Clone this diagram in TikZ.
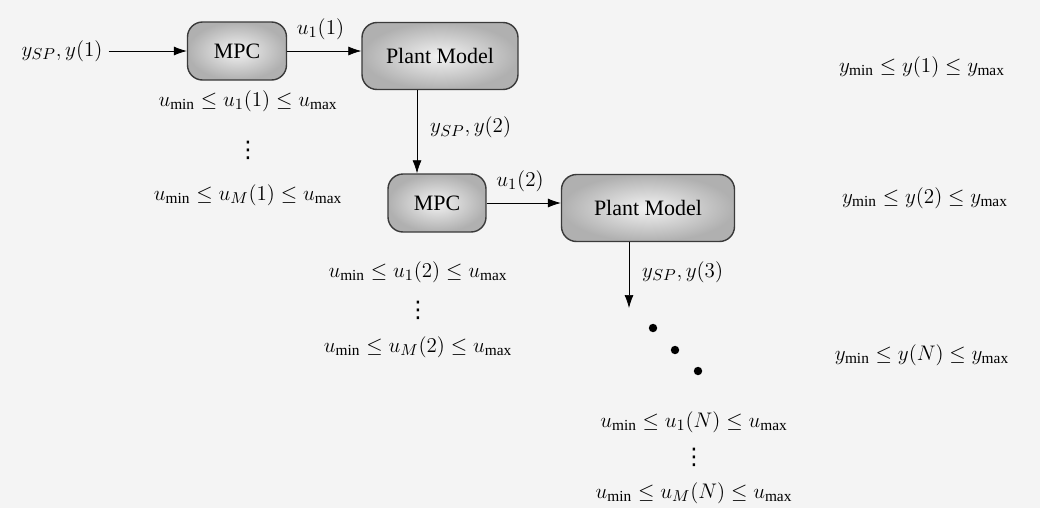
\documentclass[tikz,border=0pt]{standalone}
\usepackage{amsmath,amssymb}
\usepackage{fontspec}
\setmainfont{Liberation Serif}
\newfontfamily\symfont{DejaVu Sans}
\usetikzlibrary{arrows.meta}
\definecolor{paper}{HTML}{F4F4F4}
\definecolor{boxedge}{HTML}{3A3A3A}

\begin{document}
\begin{tikzpicture}[x=0.02cm,y=-0.02cm,>={Latex[length=2.6mm,width=1.8mm]},
  font=\fontsize{12.5}{14}\selectfont,
  block/.style={draw=boxedge,thick,rounded corners=3mm,inner color=gray!10,outer color=gray!62,
    minimum height=1.16cm},
  lbl/.style={inner sep=1pt},
  vdot/.style={inner sep=0pt,font=\symfont\fontsize{13}{13}\selectfont},
  flow/.style={->,thin}]
  \fill[paper] (0,0) rectangle (1040,508);
  \useasboundingbox (0,0) rectangle (1040,508);
  \node (ysp1) at (62,51) {$y_{SP},y(1)$};
  \node[block,minimum width=1.98cm] (mpc1) at (237,51) {MPC};
  \node[block,minimum width=3.12cm,minimum height=1.34cm] (plant1) at (440,56) {Plant Model};
  \node[block,minimum width=1.96cm] (mpc2) at (437,203) {MPC};
  \node[block,minimum width=3.46cm,minimum height=1.34cm] (plant2) at (648,208) {Plant Model};
  \coordinate (x2) at (417,0);
  \coordinate (d3) at (629,308);
  \draw[flow] (ysp1.east) -- (mpc1.west);
  \draw[flow] (mpc1.east) -- (mpc1.east -| plant1.west) node[pos=0.45,above=3pt] {$u_1(1)$};
  \draw[flow] (plant1.south -| x2) -- (mpc2.north -| x2) node[pos=0.45,right=4pt] {$y_{SP},y(2)$};
  \draw[flow] (mpc2.east) -- (mpc2.east -| plant2.west) node[pos=0.45,above=3pt] {$u_1(2)$};
  \draw[flow] (plant2.south -| d3) -- (d3) node[pos=0.45,right=4pt] {$y_{SP},y(3)$};
  \foreach \i/\px/\py in {1/653/328,2/675/350,3/698/371}
    \fill (\px,\py) circle (2.4pt);
  % constraints on the inputs
  \node[lbl] (cu11) at (248,101) {$u_{\mathrm{min}}\le u_1(1)\le u_{\mathrm{max}}$};
  \node[vdot] (cv1) at (248,150) {⋮};
  \node[lbl] (cum1) at (248,195) {$u_{\mathrm{min}}\le u_M(1)\le u_{\mathrm{max}}$};
  \node[lbl] (cu12) at (418,272) {$u_{\mathrm{min}}\le u_1(2)\le u_{\mathrm{max}}$};
  \node[vdot] (cv2) at (418,310) {⋮};
  \node[lbl] (cum2) at (418,347) {$u_{\mathrm{min}}\le u_M(2)\le u_{\mathrm{max}}$};
  \node[lbl] (cu1N) at (694,422) {$u_{\mathrm{min}}\le u_1(N)\le u_{\mathrm{max}}$};
  \node[vdot] (cvN) at (694,457) {⋮};
  \node[lbl] (cumN) at (694,493) {$u_{\mathrm{min}}\le u_M(N)\le u_{\mathrm{max}}$};
  % constraints on the outputs
  \node[lbl] (cy1) at (922,67) {$y_{\mathrm{min}}\le y(1)\le y_{\mathrm{max}}$};
  \node[lbl] (cy2) at (925,198) {$y_{\mathrm{min}}\le y(2)\le y_{\mathrm{max}}$};
  \node[lbl] (cyN) at (922,355) {$y_{\mathrm{min}}\le y(N)\le y_{\mathrm{max}}$};
\end{tikzpicture}
\end{document}
